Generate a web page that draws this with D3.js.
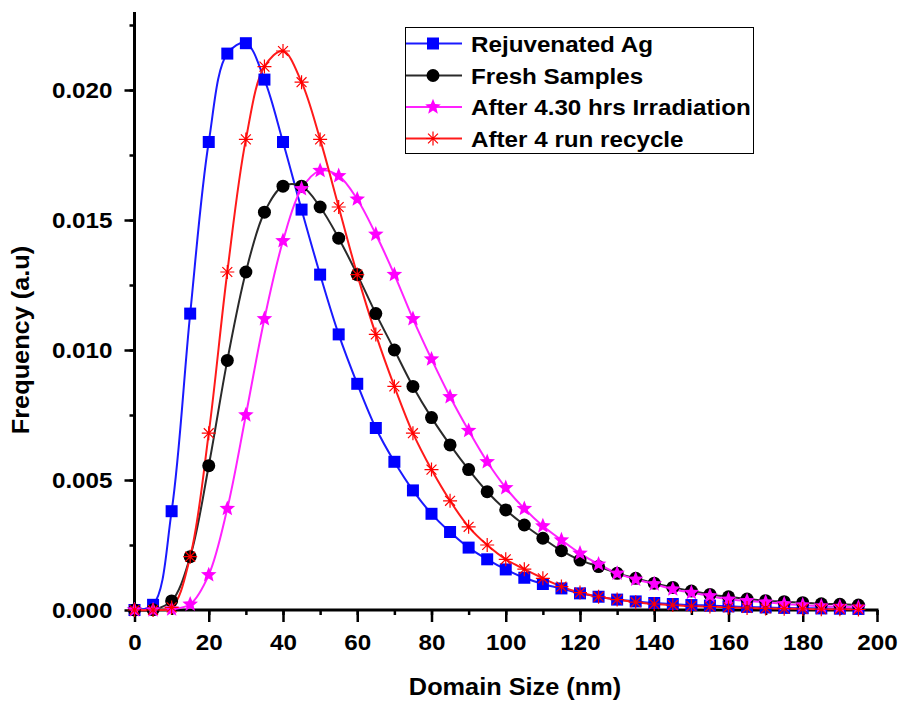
<!DOCTYPE html>
<html>
<head>
<meta charset="utf-8">
<script src="https://cdn.jsdelivr.net/npm/d3@7"></script>
<style>
  html, body { margin: 0; padding: 0; background: #fff; }
  svg { display: block; }
  text { font-family: "Liberation Sans", Arial, sans-serif; font-weight: bold; fill: #000; }
</style>
</head>
<body>
<svg id="chart" width="900" height="702"></svg>
<script>
// Domain size (nm), sampled every 5 nm
const sizes = [0,5,10,15,20,25,30,35,40,45,50,55,60,65,70,75,80,85,90,95,
               100,105,110,115,120,125,130,135,140,145,150,155,160,165,170,175,180,185,190,195];

const rejuvenatedAg = [0,0.0002,0.0038,0.0114,0.0180,0.0214,0.0218,0.0204,0.0180,0.0154,
  0.0129,0.0106,0.0087,0.0070,0.0057,0.0046,0.0037,0.0030,0.0024,0.00195,
  0.00156,0.00124,0.0010,0.00083,0.00064,0.00051,0.0004,0.00033,0.00027,0.00023,
  0.00019,0.00017,0.00014,0.00012,0.0001,0.00008,0.00007,0.00006,0.00005,0.00004];

const freshSamples = [0,0.00001,0.00035,0.00205,0.00555,0.0096,0.0130,0.0153,0.0163,0.0163,
  0.0155,0.0143,0.0129,0.0114,0.0100,0.0086,0.0074,0.00635,0.0054,0.00455,
  0.00385,0.00327,0.00276,0.00228,0.00192,0.00167,0.00141,0.00122,0.00103,0.00087,
  0.00073,0.00060,0.00051,0.00042,0.00036,0.00032,0.00028,0.00024,0.00022,0.00019];

const irradiated = [0,0,0.00003,0.00022,0.00135,0.0039,0.0075,0.0112,0.0142,0.0162,
  0.0169,0.0167,0.0158,0.01445,0.0129,0.0112,0.00965,0.0082,0.0069,0.0057,
  0.0047,0.0039,0.00323,0.00269,0.00218,0.00176,0.00141,0.00118,0.0010,0.0008,
  0.00067,0.00054,0.00041,0.00035,0.0003,0.00023,0.00019,0.00015,0.00013,0.0001];

const recycled = [0,0,0.0001,0.00205,0.0068,0.0130,0.0181,0.0209,0.0215,0.0203,
  0.0181,0.0155,0.0129,0.0106,0.0086,0.0068,0.0054,0.0042,0.0032,0.0025,
  0.00195,0.00157,0.00122,0.0009,0.00067,0.00051,0.0004,0.0003,0.00023,0.00019,
  0.00015,0.00013,0.0001,0.00008,0.00006,0.00005,0.00004,0.00003,0.00003,0.00002];

const seriesNames = ["Rejuvenated Ag", "Fresh Samples", "After 4.30 hrs Irradiation", "After 4 run recycle"];
const xTicks = [0,20,40,60,80,100,120,140,160,180,200];
const yTicks = [0,0.005,0.010,0.015,0.020];

const series = [
  { name: seriesNames[0], values: rejuvenatedAg, color: "#0000ff", line: "#1a1aff", marker: "square" },
  { name: seriesNames[1], values: freshSamples, color: "#000000", line: "#2a2a2a", marker: "circle" },
  { name: seriesNames[2], values: irradiated,   color: "#ff00ff", line: "#ff22ff", marker: "star" },
  { name: seriesNames[3], values: recycled,     color: "#ff0000", line: "#ff1a1a", marker: "asterisk" }
];

const svg = d3.select("#chart");
const x = d3.scaleLinear().domain([0, 200]).range([134.5, 877]);
const y = d3.scaleLinear().domain([0, 0.023]).range([610, 12]);

// widen glyphs slightly along the text direction
function stretch(sel, f) {
  sel.each(function() {
    const len = this.getComputedTextLength();
    d3.select(this).attr("textLength", len * f).attr("lengthAdjust", "spacingAndGlyphs");
  });
}

// marker paths centred on (0,0)
function markerPath(kind) {
  if (kind === "square") { const h = 6; return `M${-h},${-h}H${h}V${h}H${-h}Z`; }
  if (kind === "circle") { const r = 6.5; return `M${r},0A${r},${r} 0 1,1 ${-r},0A${r},${r} 0 1,1 ${r},0Z`; }
  if (kind === "star") {
    const R = 8.2, r = 3.6; let p = "";
    for (let i = 0; i < 10; i++) {
      const a = -Math.PI / 2 + i * Math.PI / 5, rr = i % 2 ? r : R;
      p += (i ? "L" : "M") + (rr * Math.cos(a)).toFixed(2) + "," + (rr * Math.sin(a)).toFixed(2);
    }
    return p + "Z";
  }
  // asterisk: four strokes through the centre
  const R = 7; let p = "";
  for (let i = 0; i < 4; i++) {
    const a = i * Math.PI / 4;
    p += `M${(R*Math.cos(a)).toFixed(2)},${(R*Math.sin(a)).toFixed(2)}L${(-R*Math.cos(a)).toFixed(2)},${(-R*Math.sin(a)).toFixed(2)}`;
  }
  return p;
}
function styleMarker(sel, s) {
  if (s.marker === "asterisk") sel.attr("fill", "none").attr("stroke", s.color).attr("stroke-width", 1.2);
  else sel.attr("fill", s.color).attr("stroke", "none");
}

// axes
const xAxis = svg.append("g").attr("transform", "translate(0,610)");
xAxis.call(d3.axisBottom(x).tickValues(d3.range(0, 201, 10)).tickSize(5).tickFormat(""));
xAxis.call(g => g.selectAll(".tick line").attr("stroke-width", 2.5));
const xMajor = svg.append("g").attr("transform", "translate(0,610)")
  .call(d3.axisBottom(x).tickValues(xTicks).tickSize(12).tickPadding(25).tickFormat(d3.format("d")));
xMajor.select(".domain").remove();
xMajor.selectAll(".tick line").attr("stroke-width", 2.5);
xMajor.selectAll(".tick text").attr("font-size", 22).attr("font-family", null).attr("dy", 0).attr("y", 40).call(stretch, 1.1);
xAxis.select(".domain").attr("stroke-width", 3).attr("d", `M${x(0)-1.5},0H${x(200)+1.5}`);

const yAxis = svg.append("g").attr("transform", "translate(134.5,0)");
yAxis.call(d3.axisLeft(y).tickValues(d3.range(0, 0.0226, 0.0025)).tickSize(5).tickFormat(""));
yAxis.selectAll(".tick line").attr("stroke-width", 2.5);
yAxis.select(".domain").attr("stroke-width", 3).attr("d", `M0,${y(0)+1.5}V${y(0.023)}`);
const yMajor = svg.append("g").attr("transform", "translate(134.5,0)")
  .call(d3.axisLeft(y).tickValues(yTicks).tickSize(10).tickPadding(12).tickFormat(d3.format(".3f")));
yMajor.select(".domain").remove();
yMajor.selectAll(".tick line").attr("stroke-width", 2.5);
yMajor.selectAll(".tick text").attr("font-size", 22).attr("font-family", null).call(stretch, 1.1);

// axis titles
svg.append("text").attr("x", 515).attr("y", 695).attr("text-anchor", "middle")
  .attr("font-size", 23).text("Domain Size (nm)").call(stretch, 1.1);
svg.append("text").attr("transform", "translate(29,340) rotate(-90)").attr("text-anchor", "middle")
  .attr("font-size", 23).text("Frequency (a.u)").call(stretch, 1.1);

// curves and markers
const line = d3.line().x((d, i) => x(sizes[i])).y(d => y(d)).curve(d3.curveCatmullRom.alpha(0.5));
series.forEach(s => {
  svg.append("path").datum(s.values).attr("d", line)
    .attr("fill", "none").attr("stroke", s.line).attr("stroke-width", 2);
});
series.forEach(s => {
  svg.append("g").selectAll("path").data(s.values).join("path")
    .attr("transform", (d, i) => `translate(${x(sizes[i])},${y(d)})`)
    .attr("d", markerPath(s.marker))
    .call(styleMarker, s);
});

// legend
const legend = svg.append("g");
legend.append("rect").attr("x", 405.5).attr("y", 27.5).attr("width", 348).attr("height", 126)
  .attr("fill", "#fff").attr("stroke", "#000").attr("stroke-width", 1);
const rowY = [43.5, 75.5, 107, 138.5];
series.forEach((s, i) => {
  const g = legend.append("g").attr("transform", `translate(0,${rowY[i]})`);
  g.append("line").attr("x1", 406).attr("x2", 462).attr("stroke", s.line).attr("stroke-width", 2);
  g.append("path").attr("transform", "translate(433,0)").attr("d", markerPath(s.marker)).call(styleMarker, s);
  g.append("text").attr("x", 471).attr("y", 8).attr("font-size", 22).text(s.name).call(stretch, 1.1);
});
</script>
</body>
</html>
